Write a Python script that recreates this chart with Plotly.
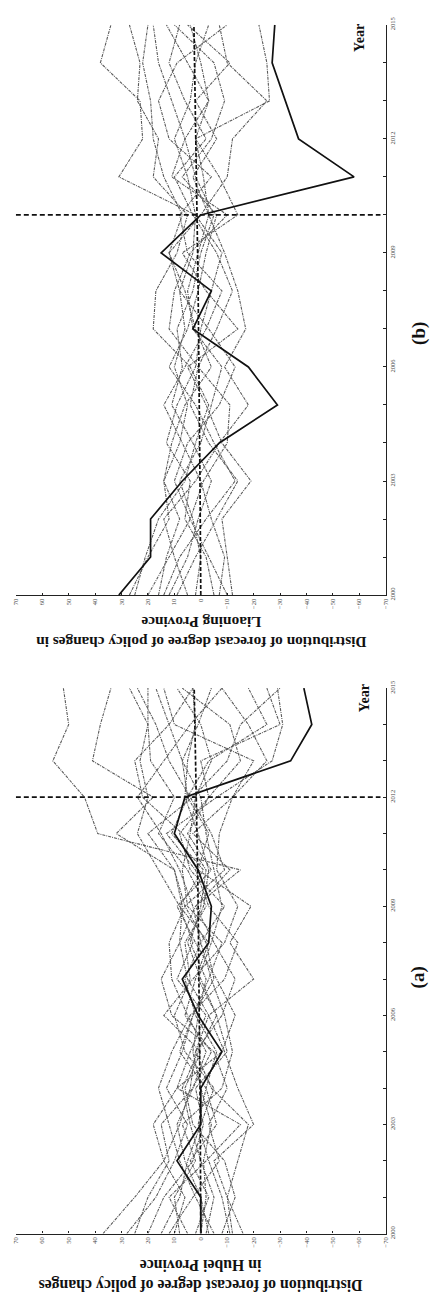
import plotly.graph_objects as go

W, H = 436, 1299
years = list(range(2000, 2016))
value_ticks = list(range(-70, 71, 10))
value_tick_text = [("\u2212" + str(-v)) if v < 0 else str(v) for v in value_ticks]
year_tick_text = [str(y) if (y - 2000) % 3 == 0 else "" for y in years]

# ---------------- Panel (a): Hubei Province ----------------
hubei_black = [0, 0, 9, 0, 0, -8, 1, 7, -3, -4, 1, 10, 6, -34, -42, -39]
hubei_mean = [0, 0, 0, 0.2, 0.3, 0.4, 0.5, 0.6, 0.8, 1.0, 1.2, 1.5, 1.8, 2.0, 2.3, 2.5]
hubei_policy_year = 2012
hubei_gray = [
    [37, 25, 14, 8, 4, 2, -3, 5, 8, 2, -15, 39, 44, 56, 50, 52],
    [28, 17, 10, 5, 13, 7, 3, -5, -2, 6, 10, 32, 18, 41, 38, 34],
    [25, 20, 12, 15, 3, -4, 6, 2, -3, 8, 16, 24, 20, 23, 20, 27],
    [15, 8, 5, 0, -5, 6, 10, 4, 6, -2, 5, 16, 10, 19, 20, 20],
    [10, 6, 14, 18, 9, 4, -2, 9, 3, 8, -1, 11, 5, 7, 12, 17],
    [2, -3, 4, -6, -2, 8, 3, -3, -8, 5, 7, 4, 2, -4, 0, 9],
    [-2, -5, 0, 4, 7, 1, -6, 0, 5, -1, -3, 1, 6, 5, 2, 3],
    [-11, -8, -3, 1, -2, -6, 2, 6, 0, -9, 4, 8, -3, -15, -11, 7],
    [-12, -10, -14, -18, -4, 2, -8, -13, -5, 2, -11, 3, -12, -25, -18, -8],
    [-16, -10, -5, -20, -14, -9, -3, -20, -11, -19, 1, -3, 5, -3, -25, -18],
    [5, 12, -2, -15, 9, -8, -13, -6, 2, 9, -4, 5, -3, 0, -30, -25],
    [-5, 2, 8, 12, 16, 11, 4, -9, -14, -3, 2, 13, -6, -27, -31, -29],
    [12, 3, -7, -3, -10, -5, 11, 15, 8, 7, 10, 20, 3, -10, -15, -30],
    [0, -2, -1, -4, 0, 3, 1, -2, 4, 0, -2, 7, 22, 25, 12, 3],
    [20, 14, 3, -1, 2, -10, -6, 1, -4, -8, -5, -2, 0, 7, 1, -4],
    [-8, -13, -9, 3, 6, 0, 14, 3, -9, -14, -6, -7, -12, -20, 10, 14],
    [8, 10, 2, 7, -8, -12, -9, -4, 0, 3, 8, 15, 24, 14, 4, -8],
    [-3, 0, 6, 9, 3, -2, 5, 11, 12, 6, -9, -4, 4, 12, 17, 24],
]

# ---------------- Panel (b): Liaoning Province ----------------
liaoning_black = [31, 19, 19, 7, -7, -29, -18, 3, -4, 15, 0, -58, -37, -32, -27, -28]
liaoning_mean = [0, 0, 0.2, 0.3, 0.4, 0.5, 0.6, 0.8, 1.0, 1.2, 1.4, 1.6, 1.8, 2.1, 2.4, 2.6]
liaoning_policy_year = 2010
liaoning_gray = [
    [27, 20, 12, 14, 8, 5, 10, 6, 8, 3, 2, 31, 22, 23, 38, 34],
    [25, 21, 16, 6, 2, -3, 4, 18, 17, 9, 5, 18, 16, 24, 23, 27],
    [16, 13, 8, 14, 11, 6, -4, 2, 6, 12, 7, 14, 18, 19, 22, 20],
    [12, 5, 1, -4, 3, 11, 7, 9, 3, 0, -5, 2, 6, 11, 16, 18],
    [9, 2, -6, -14, -3, 4, 1, -6, -12, -6, 3, 10, -2, 6, 12, 8],
    [2, 0, 3, 8, 0, -4, -8, 3, 5, 1, -3, -1, 2, -3, 0, 4],
    [-10, -3, 4, 10, 5, -7, -13, -3, 8, 12, 0, -10, -12, -25, -10, -7],
    [-12, -10, -8, -19, -8, -2, 5, -14, -2, 7, -14, -7, 2, -26, -25, -22],
    [5, 10, 14, 2, -7, -18, -9, -17, -14, -9, -3, 3, -6, 2, -11, 5],
    [20, 12, 4, -1, -10, -11, 1, 12, 10, 4, -10, 11, 6, -3, 5, 13],
    [-5, -2, 6, 4, 13, 9, 2, 0, -4, -8, 2, 5, 10, 4, 2, -3],
    [14, 8, -2, -13, -5, 2, 12, 5, 1, -2, -6, 7, -4, -9, -5, 10],
    [-7, -9, -4, 0, 7, 14, 6, -2, -8, 5, 8, -4, 12, 16, 9, -10],
]

panel_titles = {
    "a": "Distribution of forecast degree of policy changes<br>in Hubei Province",
    "b": "Distribution of forecast degree of policy changes in<br>Liaoning Province",
}

GRAY = "#5a5a5a"
SERIF = "Liberation Serif, Times New Roman, serif"

fig = go.Figure()


def add_panel(xa, ya, gray, black, mean, policy_year):
    for s in gray:
        fig.add_trace(go.Scatter(x=s, y=years, mode="lines", xaxis=xa, yaxis=ya,
                                 line=dict(color=GRAY, width=1.1, dash="3px,1px,1px,1px"),
                                 showlegend=False, hoverinfo="skip"))
    fig.add_trace(go.Scatter(x=mean, y=years, mode="lines", xaxis=xa, yaxis=ya,
                             line=dict(color="#111", width=1.7, dash="4px,2px"),
                             showlegend=False))
    fig.add_trace(go.Scatter(x=[70, -68], y=[policy_year, policy_year], mode="lines",
                             xaxis=xa, yaxis=ya,
                             line=dict(color="#111", width=1.7, dash="5px,3px"),
                             showlegend=False))
    fig.add_trace(go.Scatter(x=black, y=years, mode="lines", xaxis=xa, yaxis=ya,
                             line=dict(color="#111", width=1.7),
                             showlegend=False))


add_panel("x", "y", liaoning_gray, liaoning_black, liaoning_mean, liaoning_policy_year)
add_panel("x2", "y2", hubei_gray, hubei_black, hubei_mean, hubei_policy_year)


def xax(anchor):
    return dict(domain=[12 / W, 388 / W], anchor=anchor, range=[70, -70],
                tickvals=value_ticks, ticktext=value_tick_text, tickangle=-90,
                ticks="inside", ticklen=2, tickwidth=1, tickcolor="#222",
                showline=True, linecolor="#222", linewidth=1.3,
                showgrid=False, zeroline=False,
                tickfont=dict(family=SERIF, size=6.5, color="#444"))


def yax(anchor, top_px, bot_px):
    return dict(domain=[1 - bot_px / H, 1 - top_px / H], anchor=anchor, side="right",
                range=[2000, 2015], tickvals=years, ticktext=year_tick_text,
                tickangle=-90, ticks="inside", ticklen=3, tickwidth=1, tickcolor="#222",
                showline=True, linecolor="#222", linewidth=1.3,
                showgrid=False, zeroline=False,
                tickfont=dict(family=SERIF, size=6.5, color="#444"))


annotations = []


def ann(text, xp, yp, size, angle, bold=True):
    annotations.append(dict(text=("<b>%s</b>" % text) if bold else text,
                            x=xp / W, y=1 - yp / H, xref="paper", yref="paper",
                            showarrow=False, textangle=angle, xanchor="center",
                            yanchor="middle",
                            font=dict(family=SERIF, size=size, color="#111")))


ann(panel_titles["b"], 200, 632, 15.3, 180)
ann(panel_titles["a"], 200, 1281, 15.8, 180)
ann("(b)", 421, 330, 19, -90)
ann("(a)", 421, 980, 19, -90)
ann("Year", 361, 31, 14, -90)
ann("Year", 366, 698, 14, -90)

fig.update_layout(
    width=W, height=H, autosize=False,
    margin=dict(l=0, r=0, t=0, b=0),
    paper_bgcolor="white", plot_bgcolor="white",
    xaxis=xax("y"), yaxis=yax("x", 18, 594),
    xaxis2=xax("y2"), yaxis2=yax("x2", 688, 1239),
    annotations=annotations,
)

fig.write_html("out.html", config={"displayModeBar": False},
               post_script="document.body.style.margin='0';")
